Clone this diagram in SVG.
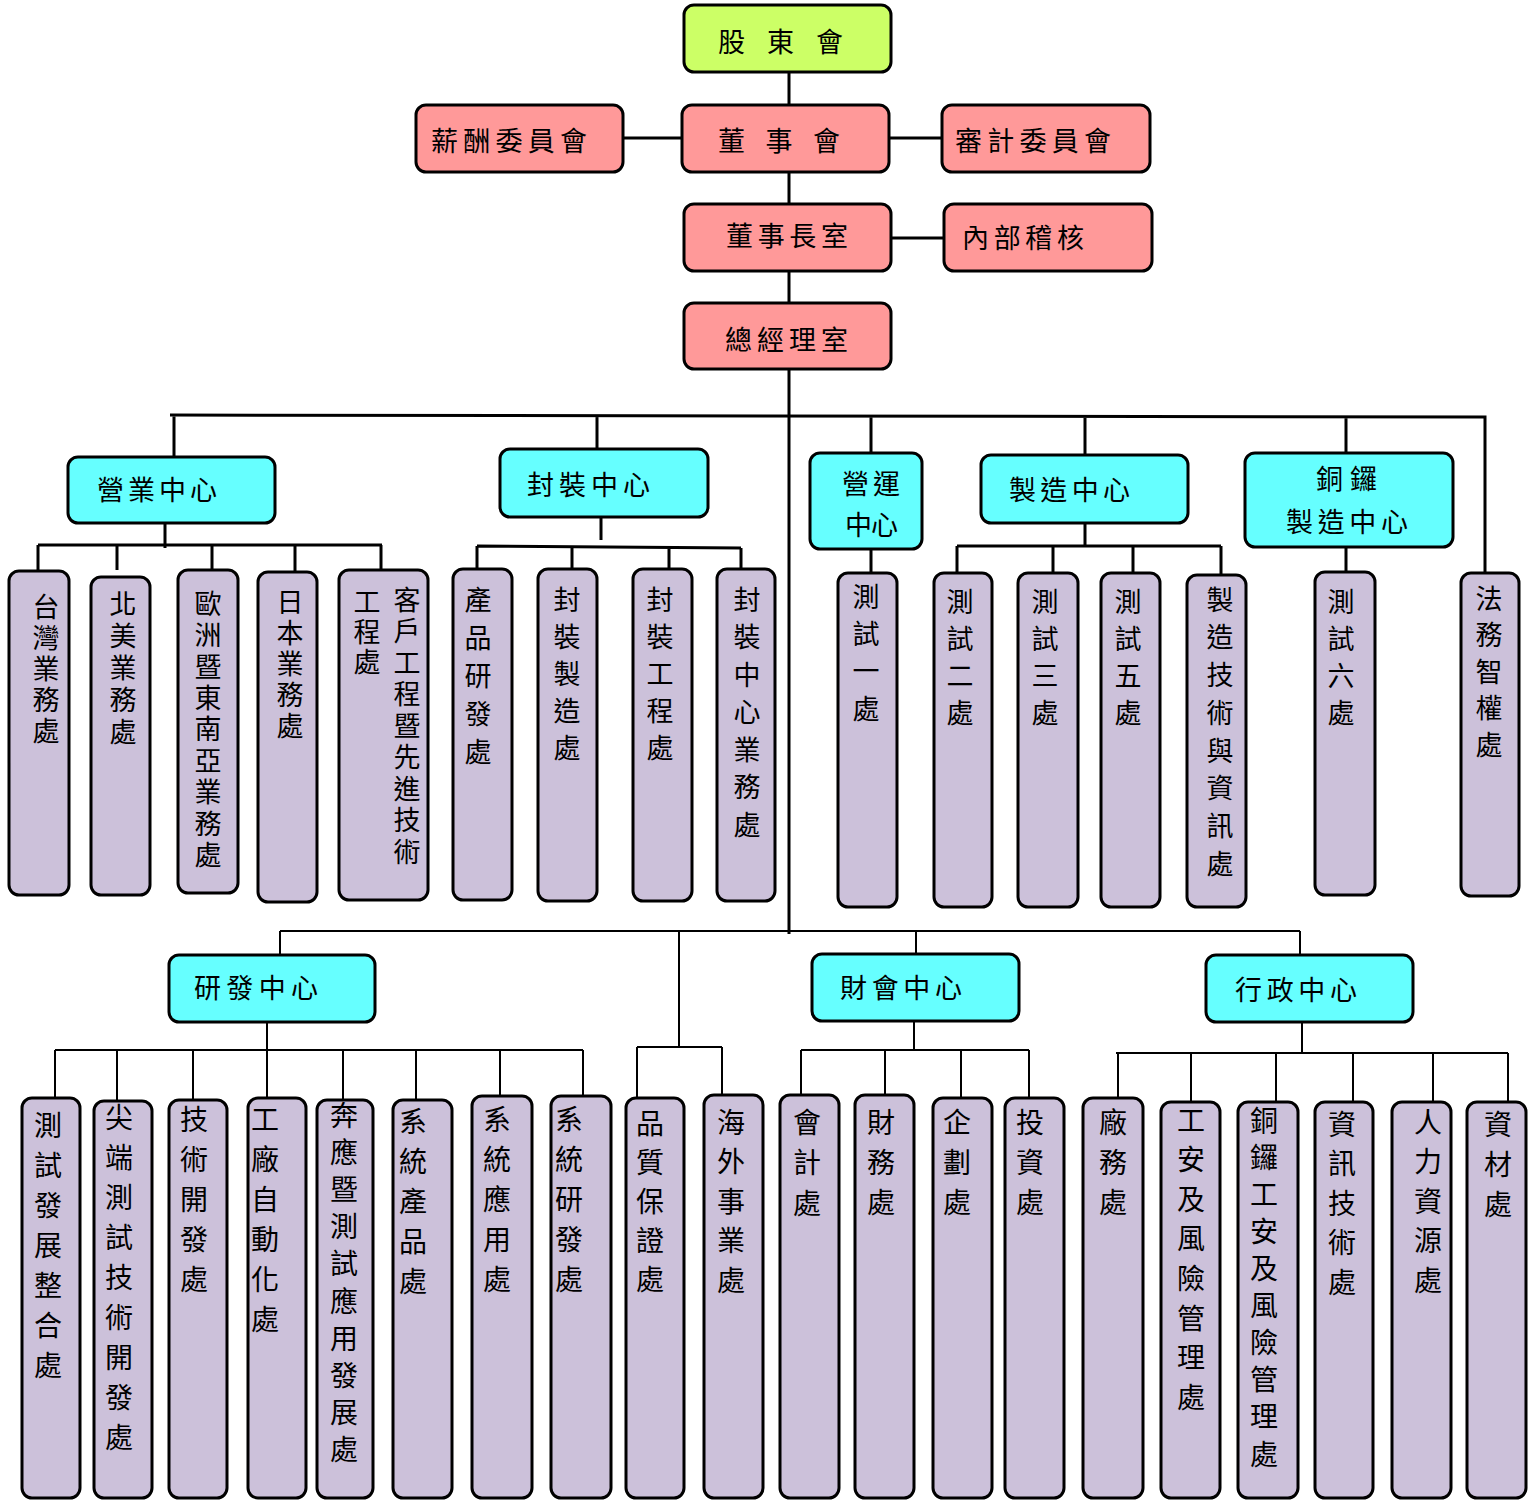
<svg xmlns="http://www.w3.org/2000/svg" width="1530" height="1501" viewBox="0 0 1530 1501">
<style>
.b{stroke:#000;stroke-width:3}
.g{fill:#CCFF66}.r{fill:#FF9999}.c{fill:#66FFFF}.p{fill:#CCC1DA}
.t{font-family:"Noto Sans CJK TC","Noto Sans CJK SC",sans-serif;font-size:27px;fill:#000}
.v{writing-mode:vertical-rl;font-size:27px}
.w{writing-mode:vertical-rl;font-size:28px}
#conn path{stroke:#000;fill:none}
#conn .k{stroke-width:3}
#conn .n{stroke-width:2}
</style>
<rect width="1530" height="1501" fill="#fff"/>
<g id="conn">
<path class="k" d="M789 72V105M789 172V204M789 271V303M789 369V934M623 138H682M889 138H942M891 238H944"/>
<path class="k" d="M170 415L1485 417V573M174 415V457M597 416V449M871 416V453M1085 416V455M1346 417V453"/>
<path class="k" d="M165 523V548M38 545H382M38 545V571M117 545V570M212 545V570M295 545V572M381 545V570"/>
<path class="k" d="M601 517V540M477 546L741 548M477 546V569M572 547V569M669 547V569M741 548V569"/>
<path class="k" d="M871 549V573M1085 523V546M957 546H1221M957 546V573M1053 546V573M1133 546V573M1221 546V575M1346 547V572"/>
<path class="n" d="M280 931H1300M280 931V955M679 931V1047M916 931V954M1300 931V955"/>
<path class="n" d="M267 1022V1098M55 1050H583M55 1050V1098M117 1050V1101M193 1050V1100M343 1050V1100M416 1050V1100M500 1050V1096M583 1050V1096"/>
<path class="n" d="M637 1047H722M637 1047V1098M722 1047V1095"/>
<path class="n" d="M914 1021V1050M801 1050H1029M801 1050V1095M885 1050V1095M961 1050V1098M1029 1050V1098"/>
<path class="n" d="M1302 1022V1053M1116 1053H1508M1118 1053V1098M1191 1053V1102M1276 1053V1102M1353 1053V1102M1433 1053V1102M1508 1053V1102"/>
</g>
<g id="n-gudong"><rect class="b g" x="684" y="5" width="207" height="67" rx="10"/><text class="t" x="718" y="52" textLength="125" lengthAdjust="spacing">股 東 會</text></g>
<g id="n-dongshihui"><rect class="b r" x="682" y="105" width="207" height="67" rx="10"/><text class="t" x="718" y="151" textLength="122" lengthAdjust="spacing">董 事 會</text></g>
<g id="n-xinchou"><rect class="b r" x="416" y="105" width="207" height="67" rx="10"/><text class="t" x="431" y="151" textLength="156" lengthAdjust="spacing">薪酬委員會</text></g>
<g id="n-shenji"><rect class="b r" x="942" y="105" width="208" height="67" rx="10"/><text class="t" x="955" y="151" textLength="156" lengthAdjust="spacing">審計委員會</text></g>
<g id="n-dongshizhang"><rect class="b r" x="684" y="204" width="207" height="67" rx="10"/><text class="t" x="726" y="246" textLength="122" lengthAdjust="spacing">董事長室</text></g>
<g id="n-neibu"><rect class="b r" x="944" y="204" width="208" height="67" rx="10"/><text class="t" x="962" y="248" textLength="122" lengthAdjust="spacing">內部稽核</text></g>
<g id="n-zongjingli"><rect class="b r" x="684" y="303" width="207" height="66" rx="10"/><text class="t" x="725" y="350" textLength="123" lengthAdjust="spacing">總經理室</text></g>
<g id="n-yingye"><rect class="b c" x="68" y="457" width="207" height="66" rx="10"/><text class="t" x="97" y="500" textLength="120" lengthAdjust="spacing">營業中心</text></g>
<g id="n-fengzhuang"><rect class="b c" x="500" y="449" width="208" height="68" rx="10"/><text class="t" x="527" y="495" textLength="123" lengthAdjust="spacing">封裝中心</text></g>
<g id="n-yingyun"><rect class="b c" x="810" y="453" width="112" height="96" rx="10"/><text class="t" x="842" y="494" textLength="58" lengthAdjust="spacing">營運</text><text class="t" x="845" y="535" textLength="53" lengthAdjust="spacing">中心</text></g>
<g id="n-zhizao"><rect class="b c" x="981" y="455" width="207" height="68" rx="10"/><text class="t" x="1009" y="500" textLength="121" lengthAdjust="spacing">製造中心</text></g>
<g id="n-tongluo"><rect class="b c" x="1245" y="453" width="208" height="94" rx="10"/><text class="t" x="1316" y="489" textLength="61" lengthAdjust="spacing">銅鑼</text><text class="t" x="1286" y="532" textLength="122" lengthAdjust="spacing">製造中心</text></g>
<g id="n-yanfa"><rect class="b c" x="169" y="955" width="206" height="67" rx="10"/><text class="t" x="194" y="998" textLength="124" lengthAdjust="spacing">研發中心</text></g>
<g id="n-caihui"><rect class="b c" x="812" y="954" width="207" height="67" rx="10"/><text class="t" x="840" y="998" textLength="122" lengthAdjust="spacing">財會中心</text></g>
<g id="n-xingzheng"><rect class="b c" x="1206" y="955" width="207" height="67" rx="10"/><text class="t" x="1235" y="1000" textLength="122" lengthAdjust="spacing">行政中心</text></g>
<g id="d1"><rect class="b p" x="9" y="571" width="60" height="324" rx="10"/><text class="t v" x="46" y="593" style="letter-spacing:4px">台灣業務處</text></g>
<g id="d2"><rect class="b p" x="91" y="577" width="59" height="318" rx="10"/><text class="t v" x="123" y="590" style="letter-spacing:5px">北美業務處</text></g>
<g id="d3"><rect class="b p" x="178" y="570" width="60" height="323" rx="10"/><text class="t v" x="208" y="590" style="letter-spacing:4.4px">歐洲暨東南亞業務處</text></g>
<g id="d4"><rect class="b p" x="258" y="572" width="59" height="330" rx="10"/><text class="t v" x="290" y="588" style="letter-spacing:4px">日本業務處</text></g>
<g id="d5"><rect class="b p" x="339" y="570" width="89" height="330" rx="10"/><text class="t v" style="letter-spacing:4.5px"><tspan x="407" y="586">客戶工程暨先進技術</tspan><tspan x="367" y="588" style="letter-spacing:3px">工程處</tspan></text></g>
<g id="d6"><rect class="b p" x="453" y="569" width="59" height="331" rx="10"/><text class="t v" x="478" y="586" style="letter-spacing:11px">產品研發處</text></g>
<g id="d7"><rect class="b p" x="538" y="569" width="59" height="332" rx="10"/><text class="t v" x="567" y="586" style="letter-spacing:10px">封裝製造處</text></g>
<g id="d8"><rect class="b p" x="633" y="569" width="59" height="332" rx="10"/><text class="t v" x="660" y="586" style="letter-spacing:10px">封裝工程處</text></g>
<g id="d9"><rect class="b p" x="717" y="569" width="58" height="332" rx="10"/><text class="t v" x="747" y="586" style="letter-spacing:10.5px">封裝中心業務處</text></g>
<g id="d10"><rect class="b p" x="838" y="573" width="59" height="334" rx="10"/><text class="t v" x="866" y="583" style="letter-spacing:10.3px">測試一處</text></g>
<g id="d11"><rect class="b p" x="934" y="573" width="58" height="334" rx="10"/><text class="t v" x="960" y="588" style="letter-spacing:10px">測試二處</text></g>
<g id="d12"><rect class="b p" x="1018" y="573" width="60" height="334" rx="10"/><text class="t v" x="1045" y="588" style="letter-spacing:10px">測試三處</text></g>
<g id="d13"><rect class="b p" x="1101" y="573" width="59" height="334" rx="10"/><text class="t v" x="1128" y="588" style="letter-spacing:10px">測試五處</text></g>
<g id="d14"><rect class="b p" x="1187" y="575" width="59" height="332" rx="10"/><text class="t v" x="1220" y="586" style="letter-spacing:10.7px">製造技術與資訊處</text></g>
<g id="d15"><rect class="b p" x="1315" y="572" width="60" height="323" rx="10"/><text class="t v" x="1341" y="588" style="letter-spacing:10px">測試六處</text></g>
<g id="d16"><rect class="b p" x="1461" y="573" width="58" height="323" rx="10"/><text class="t v" x="1489" y="585" style="letter-spacing:9.5px">法務智權處</text></g>
<g id="e1"><rect class="b p" x="22" y="1098" width="58" height="400" rx="10"/><text class="t w" x="48" y="1111" style="letter-spacing:12px">測試發展整合處</text></g>
<g id="e2"><rect class="b p" x="94" y="1101" width="58" height="397" rx="10"/><text class="t w" x="119" y="1103" style="letter-spacing:12px">尖端測試技術開發處</text></g>
<g id="e3"><rect class="b p" x="169" y="1100" width="58" height="398" rx="10"/><text class="t w" x="194" y="1105" style="letter-spacing:12px">技術開發處</text></g>
<g id="e4"><rect class="b p" x="248" y="1098" width="58" height="400" rx="10"/><text class="t w" x="265" y="1105" style="letter-spacing:12px">工廠自動化處</text></g>
<g id="e5"><rect class="b p" x="317" y="1100" width="56" height="398" rx="10"/><text class="t w" x="344" y="1101" style="letter-spacing:9.2px">奔應暨測試應用發展處</text></g>
<g id="e6"><rect class="b p" x="393" y="1100" width="59" height="398" rx="10"/><text class="t w" x="413" y="1107" style="letter-spacing:12px">系統產品處</text></g>
<g id="e7"><rect class="b p" x="472" y="1096" width="60" height="402" rx="10"/><text class="t w" x="497" y="1105" style="letter-spacing:12px">系統應用處</text></g>
<g id="e8"><rect class="b p" x="551" y="1096" width="60" height="402" rx="10"/><text class="t w" x="569" y="1105" style="letter-spacing:12px">系統研發處</text></g>
<g id="e9"><rect class="b p" x="626" y="1098" width="58" height="400" rx="10"/><text class="t w" x="650" y="1109" style="letter-spacing:11px">品質保證處</text></g>
<g id="e10"><rect class="b p" x="704" y="1095" width="59" height="403" rx="10"/><text class="t w" x="731" y="1108" style="letter-spacing:11.5px">海外事業處</text></g>
<g id="e11"><rect class="b p" x="780" y="1095" width="59" height="403" rx="10"/><text class="t w" x="807" y="1108" style="letter-spacing:12.5px">會計處</text></g>
<g id="e12"><rect class="b p" x="855" y="1095" width="59" height="403" rx="10"/><text class="t w" x="881" y="1108" style="letter-spacing:12px">財務處</text></g>
<g id="e13"><rect class="b p" x="933" y="1098" width="59" height="400" rx="10"/><text class="t w" x="957" y="1108" style="letter-spacing:12px">企劃處</text></g>
<g id="e14"><rect class="b p" x="1005" y="1098" width="59" height="400" rx="10"/><text class="t w" x="1030" y="1108" style="letter-spacing:12px">投資處</text></g>
<g id="e15"><rect class="b p" x="1083" y="1098" width="60" height="400" rx="10"/><text class="t w" x="1113" y="1108" style="letter-spacing:12px">廠務處</text></g>
<g id="e16"><rect class="b p" x="1161" y="1102" width="59" height="396" rx="10"/><text class="t w" x="1191" y="1106" style="letter-spacing:11.6px">工安及風險管理處</text></g>
<g id="e17"><rect class="b p" x="1238" y="1102" width="60" height="396" rx="10"/><text class="t w" x="1264" y="1106" style="letter-spacing:9.1px">銅鑼工安及風險管理處</text></g>
<g id="e18"><rect class="b p" x="1315" y="1102" width="58" height="396" rx="10"/><text class="t w" x="1342" y="1110" style="letter-spacing:11.5px">資訊技術處</text></g>
<g id="e19"><rect class="b p" x="1392" y="1102" width="59" height="396" rx="10"/><text class="t w" x="1428" y="1108" style="letter-spacing:11.5px">人力資源處</text></g>
<g id="e20"><rect class="b p" x="1467" y="1102" width="59" height="396" rx="10"/><text class="t w" x="1498" y="1110" style="letter-spacing:12px">資材處</text></g>
</svg>
